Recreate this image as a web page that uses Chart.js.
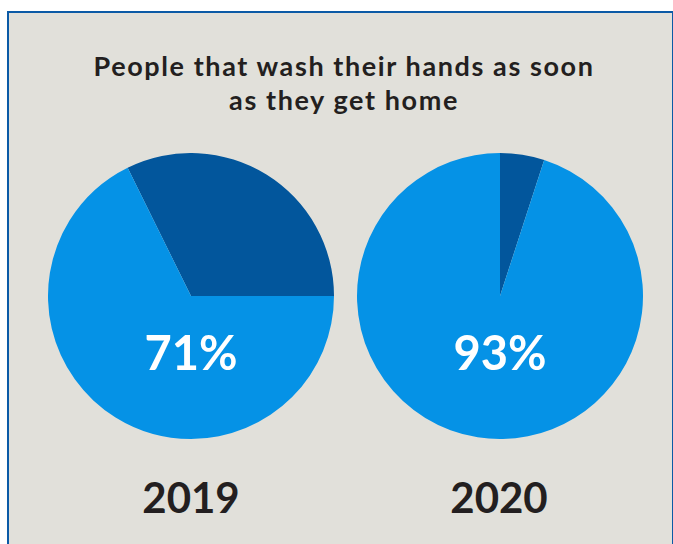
<!DOCTYPE html>
<html>
<head>
<meta charset="utf-8">
<script src="https://cdn.jsdelivr.net/npm/chart.js@4"></script>
<style>
  html, body { margin: 0; padding: 0; background: #ffffff; width: 673px; height: 544px; overflow: hidden; }
  #frame { position: absolute; left: 7px; top: 11px; width: 663px; height: 540px; background: #e1e0da;
           border-top: 2px solid #0b5aa6; border-left: 2px solid #0b5aa6; border-right: 2px solid #0b5aa6; }
  .txt { position: absolute; font-family: Lato, "Open Sans", sans-serif; font-weight: 700; text-align: center; white-space: nowrap; }
  #title { left: 1px; width: 686px; top: 49px; font-size: 27px; line-height: 34px; letter-spacing: 1.6px; color: #231f20; }
  .pct { font-size: 47px; line-height: 47px; color: #ffffff; width: 200px; top: 329px; }
  .year { font-size: 42px; line-height: 42px; color: #231f20; width: 200px; top: 476px; }
  .pie { position: absolute; width: 286px; height: 286px; top: 153px; }
</style>
</head>
<body>
<div id="frame"></div>
<div class="pie" style="left:48px"><canvas id="pie0"></canvas></div>
<div class="pie" style="left:357px"><canvas id="pie1"></canvas></div>
<div id="title" class="txt"></div>
<div id="pct0" class="txt pct" style="left:91px"></div>
<div id="pct1" class="txt pct" style="left:400px"></div>
<div id="year0" class="txt year" style="left:91px"></div>
<div id="year1" class="txt year" style="left:399px"></div>
<script>
// Data
const titleLines = ["People that wash their hands as soon", "as they get home"];
const years = ["2019", "2020"];
const printedLabels = ["71%", "93%"];
const segmentNames = ["Not right away", "Wash hands as soon as home"];
// slice shares as drawn (dark slice, light slice)
const shares2019 = [32.3, 67.7];
const shares2020 = [5, 95];
// start angle of the dark slice (degrees from 12 o'clock, clockwise)
const startAngles = [-26.3, 0];
const colors = ["#02569c", "#0592e6"];

document.getElementById('title').innerHTML = titleLines.join('<br>');
printedLabels.forEach((t, i) => document.getElementById('pct' + i).textContent = t);
years.forEach((t, i) => document.getElementById('year' + i).textContent = t);

[shares2019, shares2020].forEach((vals, i) => {
  new Chart(document.getElementById('pie' + i), {
    type: 'pie',
    data: {
      labels: segmentNames,
      datasets: [{ data: vals, backgroundColor: colors, borderWidth: 0, hoverOffset: 0 }]
    },
    options: {
      responsive: true,
      maintainAspectRatio: false,
      animation: false,
      rotation: startAngles[i],
      layout: { padding: 0 },
      plugins: { legend: { display: false }, tooltip: { enabled: false }, title: { display: false } }
    }
  });
});
</script>
</body>
</html>
